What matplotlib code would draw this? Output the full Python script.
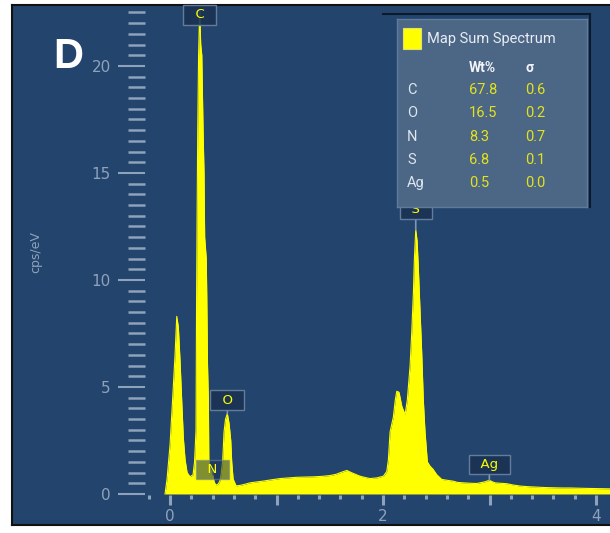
import numpy as np
import matplotlib
matplotlib.use('Agg')
import matplotlib.pyplot as plt
from matplotlib.ticker import FixedLocator, FixedFormatter
from matplotlib.patches import Rectangle
from matplotlib.lines import Line2D

# EDS spectrum (keV, cps/eV)
energy = [-0.047, -0.028, 0.000, 0.025, 0.047, 0.063, 0.078, 0.094, 0.110, 0.125,
          0.141, 0.160, 0.188, 0.216, 0.230, 0.244, 0.249, 0.254, 0.260, 0.268,
          0.278, 0.288, 0.298, 0.310, 0.319, 0.325, 0.340, 0.345, 0.352, 0.360,
          0.364, 0.371,
          0.385, 0.400, 0.415, 0.430, 0.450, 0.468, 0.479, 0.495, 0.507, 0.521,
          0.538, 0.554, 0.570, 0.579, 0.592, 0.620, 0.657, 0.700, 0.751, 0.810,
          0.873, 0.950, 1.033, 1.110, 1.192, 1.270, 1.343, 1.420, 1.502, 1.560,
          1.596, 1.659, 1.706, 1.784, 1.840, 1.878, 1.941, 2.003, 2.035, 2.050,
          2.066, 2.097, 2.115, 2.129, 2.150, 2.176, 2.207, 2.228, 2.254, 2.269,
          2.285, 2.294, 2.307, 2.320, 2.331, 2.347, 2.363, 2.378, 2.394, 2.416,
          2.441, 2.470, 2.504, 2.551, 2.600, 2.657, 2.700, 2.754, 2.820, 2.880,
          2.930, 2.958, 2.998, 3.030, 3.052, 3.100, 3.162, 3.220, 3.286, 3.360,
          3.443, 3.520, 3.599, 3.680, 3.756, 3.830, 3.913, 4.020, 4.131]
counts = [0.0, 0.7, 2.3, 4.5, 6.5, 8.3, 7.8, 6.2, 4.3, 2.6,
          1.6, 1.0, 0.8, 0.9, 1.5, 3.0, 9.0, 13.0, 17.0, 20.5,
          22.6, 21.0, 20.5, 17.0, 15.0, 12.0, 11.0, 9.2, 6.0, 4.4,
          1.6, 1.3,
          1.1, 0.9, 0.55, 0.42, 0.45, 0.6, 0.9, 1.6, 2.9, 3.5,
          3.75, 3.3, 2.5, 1.5, 0.7, 0.38, 0.4, 0.45, 0.52, 0.56,
          0.6, 0.66, 0.72, 0.75, 0.78, 0.79, 0.8, 0.82, 0.86, 0.92,
          0.99, 1.1, 0.99, 0.83, 0.76, 0.72, 0.75, 0.83, 1.05, 1.6,
          2.9, 3.6, 4.4, 4.8, 4.75, 4.1, 3.7, 4.4, 6.0, 7.5,
          9.4, 10.95, 12.35, 11.8, 10.6, 8.6, 6.6, 4.4, 2.9, 1.5,
          1.3, 1.15, 0.9, 0.68, 0.64, 0.6, 0.54, 0.52, 0.5, 0.49,
          0.54, 0.57, 0.64, 0.56, 0.52, 0.5, 0.48, 0.42, 0.37, 0.34,
          0.32, 0.3, 0.29, 0.28, 0.28, 0.27, 0.26, 0.25, 0.24]

# peak markers
peak_elements = ['C', 'N', 'O', 'S', 'Ag']
peak_energy = [0.278, 0.400, 0.538, 2.307, 2.998]

# quantification table
table_elements = ['C', 'O', 'N', 'S', 'Ag']
wt_pct = ['67.8', '16.5', '8.3', '6.8', '0.5']
sigma = ['0.6', '0.2', '0.7', '0.1', '0.0']

BG = '#23446c'
TICK = '#8ea2bb'
YEL = '#ffff00'

fig = plt.figure(figsize=(6.1, 5.33), dpi=100, facecolor='white')
rect = [12/610, 8/533, 598/610, 520/533]

# frame / background
bg = fig.add_axes(rect, facecolor=BG)
bg.set_xticks([]); bg.set_yticks([])
for s in ['left', 'top', 'bottom']:
    bg.spines[s].set_color('#111111'); bg.spines[s].set_linewidth(1.5)
bg.spines['right'].set_visible(False)

ax = fig.add_axes(rect, facecolor='none')
ax.set_xlim(-1.484, 4.131)
ax.set_ylim(-1.45, 22.85)
ax.fill_between(energy, counts, 0, color=YEL, lw=0, zorder=2)
ax.plot(energy, counts, color=YEL, lw=0.8, zorder=2)

for s in ['top', 'right']:
    ax.spines[s].set_visible(False)
ax.spines['left'].set_position(('data', -0.235))
ax.spines['left'].set_linewidth(0)
ax.spines['bottom'].set_position(('data', -0.07))
ax.spines['bottom'].set_linewidth(0)

ax.yaxis.set_major_locator(FixedLocator([0, 5, 10, 15, 20]))
ax.yaxis.set_minor_locator(FixedLocator([v for v in np.arange(0.5, 22.6, 0.5) if v % 5 != 0]))
ax.tick_params(axis='y', which='major', direction='out', length=19.5, width=1.5,
               color=TICK, labelcolor=TICK, labelsize=11, pad=5)
ax.tick_params(axis='y', which='minor', direction='out', length=12, width=1.8, color=TICK)

ax.xaxis.set_major_locator(FixedLocator([0, 1, 2, 3, 4]))
ax.xaxis.set_major_formatter(FixedFormatter(['0', '', '2', '', '4']))
ax.xaxis.set_minor_locator(FixedLocator([v for v in np.arange(-0.2, 4.01, 0.2)
                                         if abs(v - round(v)) > 1e-6]))
ax.tick_params(axis='x', which='major', direction='out', length=7, width=2.2,
               color=TICK, labelcolor=TICK, labelsize=11, pad=3)
ax.tick_params(axis='x', which='minor', direction='out', length=3, width=2.2, color=TICK)

ax.set_ylabel('cps/eV', color=TICK, fontsize=9)
ax.yaxis.set_label_coords(0.05, 0.525)

ax.text(0.0686, 0.879, 'D', transform=ax.transAxes, fontsize=30, fontweight='bold',
        family='Liberation Sans', color='white', ha='left', va='baseline')

# peak labels
label_y = {'C': 22.39, 'N': 1.14, 'O': 4.39, 'S': 13.3, 'Ag': 1.38}
box_alpha = {'C': 0.9, 'N': 0.55, 'O': 0.9, 'S': 0.9, 'Ag': 0.9}
for el, e in zip(peak_elements, peak_energy):
    tip = np.interp(e, energy, counts)
    ax.annotate('  ' + el + '  ', xy=(e, tip), xytext=(e, label_y[el]),
                ha='center', va='center', color=YEL, fontsize=9.5, zorder=4,
                bbox=dict(boxstyle='square,pad=0.25', fc='#1b3354', ec='#6c84a3',
                          lw=1, alpha=box_alpha[el]),
                arrowprops=dict(arrowstyle='-', color='#7f95b0', lw=1.2,
                                shrinkA=0, shrinkB=0))

# shadow lines behind the table
fig.add_artist(Line2D([383/610, 590/610], [1 - 14/533, 1 - 14/533],
                      transform=fig.transFigure, color='#0d1a2b', lw=1.5))
fig.add_artist(Line2D([590/610, 590/610], [1 - 14/533, 1 - 207/533],
                      transform=fig.transFigure, color='#0d1a2b', lw=1.5))

# quantification table panel
leg = fig.add_axes([397/610, (533-207)/533, 190/610, 188/533], facecolor='#4c6686')
leg.set_xticks([]); leg.set_yticks([])
for s in leg.spines.values():
    s.set_color('#5f7b9c'); s.set_linewidth(1)
leg.add_patch(Rectangle((0.032, 0.840), 0.095, 0.112, transform=leg.transAxes,
                        fc=YEL, ec='#e0e070', lw=0.8))
leg.text(0.158, 0.894, 'Map Sum Spectrum', transform=leg.transAxes, family='Roboto',
         fontsize=10.5, color='#e8edf3', va='center', ha='left')
leg.text(0.379, 0.739, 'Wt%', transform=leg.transAxes, family='Roboto',
         fontsize=10, fontweight='bold', color='#f2f5f8', va='center')
leg.text(0.674, 0.739, 'σ', transform=leg.transAxes, family='Roboto',
         fontsize=10, fontweight='bold', color='#f2f5f8', va='center')
row_y = [0.622, 0.500, 0.372, 0.250, 0.128]
for y, el, w, sg in zip(row_y, table_elements, wt_pct, sigma):
    leg.text(0.053, y, el, transform=leg.transAxes, family='Roboto', fontsize=10.5,
             color='#dfe6ee', va='center')
    leg.text(0.379, y, w, transform=leg.transAxes, family='Roboto', fontsize=10.5,
             color='#e3e31c', va='center')
    leg.text(0.674, y, sg, transform=leg.transAxes, family='Roboto', fontsize=10.5,
             color='#e3e31c', va='center')

fig.savefig('out.png', dpi=100, facecolor='white')
